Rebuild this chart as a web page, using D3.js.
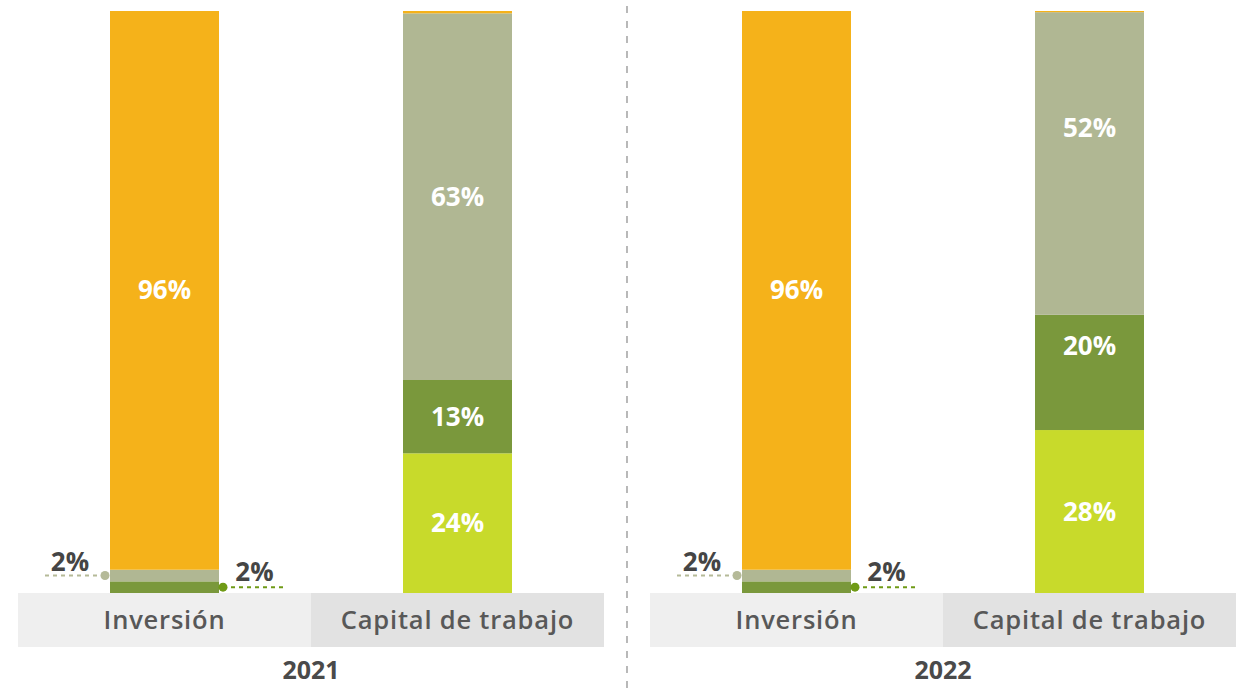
<!DOCTYPE html>
<html>
<head>
<meta charset="utf-8">
<script src="https://cdn.jsdelivr.net/npm/d3@7"></script>
<style>
  html, body { margin: 0; padding: 0; background: #fff; }
  svg { display: block; font-family: "Open Sans", "Noto Sans", sans-serif; }
</style>
</head>
<body>
<svg id="chart" width="1249" height="692"></svg>
<script>
// Years and categories
const years = ["2021", "2022"];
const categories = ["Inversión", "Capital de trabajo"];
// Stack segments, bottom to top
const segments = ["s1", "s2", "s3", "s4"];
const segmentColors = ["#c8da2b", "#7a983c", "#b0b793", "#f5b21a"];

// Share of each segment (%) per year and category, bottom to top
const inversion2021 = [0, 2, 2, 96];
const capital2021 = [24, 12.6, 63, 0.4];
const inversion2022 = [0, 2, 2, 96];
const capital2022 = [28, 19.8, 52, 0.2];

const values = {
  "2021": { "Inversión": inversion2021, "Capital de trabajo": capital2021 },
  "2022": { "Inversión": inversion2022, "Capital de trabajo": capital2022 }
};

const svg = d3.select("#chart");
const W = 1249, H = 692;
const baseY = 593, topY = 11;

const x0 = d3.scaleBand().domain(years).range([18, 1236]).paddingInner(0.0728).paddingOuter(0);
const x1 = d3.scaleBand().domain(categories).range([0, x0.bandwidth()]).padding(0);
const y = d3.scaleLinear().domain([0, 100]).range([baseY, topY]);
const barW = x1.bandwidth() * 0.372;
const color = d3.scaleOrdinal().domain(segments).range(segmentColors);
const bandFill = d3.scaleOrdinal().domain(categories).range(["#efefef", "#e2e2e2"]);

// Label nudges (px) for a few segment labels
const labelShift = { "2022|Capital de trabajo|s2": -27, "2022|Capital de trabajo|s3": -36 };

// Divider between the two years
const midX = (x0("2021") + x0.bandwidth() + x0("2022")) / 2;
svg.append("line")
  .attr("x1", midX).attr("x2", midX).attr("y1", 0).attr("y2", H)
  .attr("stroke", "#8a8a8a").attr("stroke-width", 1.2)
  .attr("stroke-dasharray", "7,8").attr("stroke-dashoffset", -6);

years.forEach(yr => {
  const g = svg.append("g").attr("transform", `translate(${x0(yr)},0)`);

  // Category band
  g.selectAll("rect.band").data(categories).join("rect")
    .attr("class", "band")
    .attr("x", d => x1(d)).attr("width", x1.bandwidth())
    .attr("y", baseY).attr("height", 647 - baseY)
    .attr("fill", d => bandFill(d));

  g.selectAll("text.cat").data(categories).join("text")
    .attr("class", "cat")
    .attr("x", d => x1(d) + x1.bandwidth() / 2)
    .attr("y", 620).attr("dy", "0.35em")
    .attr("text-anchor", "middle")
    .attr("font-size", 25.5).attr("font-weight", 600)
    .attr("letter-spacing", 0.8)
    .attr("fill", "#585858")
    .text(d => d);

  // Year label
  g.append("text")
    .attr("x", x0.bandwidth() / 2).attr("y", 670).attr("dy", "0.35em")
    .attr("text-anchor", "middle")
    .attr("font-size", 25).attr("font-weight", 700)
    .attr("fill", "#4a4a4a")
    .text(yr);

  categories.forEach(cat => {
    const vals = values[yr][cat];
    const rows = [Object.fromEntries(segments.map((s, i) => [s, vals[i]]))];
    const stacked = d3.stack().keys(segments)(rows);
    const cx = x1(cat) + x1.bandwidth() / 2;
    const bx = cx - barW / 2;

    g.selectAll(null).data(stacked).join("rect")
      .attr("x", bx).attr("width", barW)
      .attr("y", d => y(d[0][1]))
      .attr("height", d => y(d[0][0]) - y(d[0][1]))
      .attr("fill", d => color(d.key));

    // Values inside the bar for large segments
    g.selectAll(null).data(stacked.filter(d => d[0][1] - d[0][0] >= 10)).join("text")
      .attr("x", cx)
      .attr("y", d => (y(d[0][0]) + y(d[0][1])) / 2 + (labelShift[`${yr}|${cat}|${d.key}`] || 0))
      .attr("dy", "0.35em")
      .attr("text-anchor", "middle")
      .attr("font-size", 26).attr("font-weight", 700)
      .attr("fill", "#ffffff")
      .text(d => Math.round(d[0][1] - d[0][0]) + "%");

    // Callouts for the thin lower segments
    const small = stacked.filter(d => (d.key === "s2" || d.key === "s3") && d[0][1] - d[0][0] > 0 && d[0][1] - d[0][0] < 10);
    small.forEach(d => {
      const v = d[0][1] - d[0][0];
      const my = (y(d[0][0]) + y(d[0][1])) / 2;
      const left = d.key === "s3";
      const dotX = left ? bx - 5 : bx + barW + 4;
      const endX = left ? bx - 66 : bx + barW + 65;
      const stroke = left ? "#b5ba98" : "#6f9a16";
      g.append("line")
        .attr("x1", dotX).attr("x2", endX).attr("y1", my).attr("y2", my)
        .attr("stroke", stroke).attr("stroke-width", 2)
        .attr("stroke-dasharray", "4,4");
      g.append("circle")
        .attr("cx", dotX).attr("cy", my).attr("r", 4.5)
        .attr("fill", stroke);
      g.append("text")
        .attr("x", left ? bx - 40 : bx + barW + 35.5)
        .attr("y", left ? my - 14 : my - 15)
        .attr("dy", "0.35em")
        .attr("text-anchor", "middle")
        .attr("font-size", 26).attr("font-weight", 700)
        .attr("fill", "#454545")
        .text(Math.round(v) + "%");
    });
  });
});
</script>
</body>
</html>
